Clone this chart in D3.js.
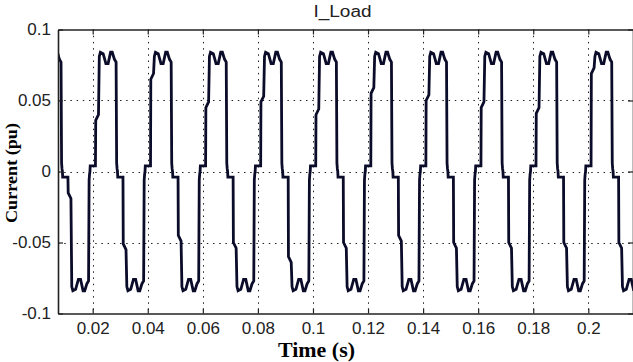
<!DOCTYPE html>
<html><head><meta charset="utf-8">
<script src="https://cdn.jsdelivr.net/npm/d3@7"></script>
<style>html,body{margin:0;padding:0;background:#fff;overflow:hidden}</style>
</head><body>
<svg id="chart" width="633" height="362"></svg>
<script>
const title = "I_Load";
const xLabel = "Time (s)";
const yLabel = "Current (pu)";
const xDomain = [0.0074, 0.21623];
const yDomain = [-0.1, 0.1];
const xTicks = [0.02, 0.04, 0.06, 0.08, 0.1, 0.12, 0.14, 0.16, 0.18, 0.2];
const xTickLabels = ["0.02", "0.04", "0.06", "0.08", "0.1", "0.12", "0.14", "0.16", "0.18", "0.2"];
const yTicks = [-0.1, -0.05, 0, 0.05, 0.1];
const yTickLabels = ["-0.1", "-0.05", "0", "0.05", "0.1"];

const time = [
 0.0072, 0.0079, 0.0085, 0.0087, 0.00885,
 0.0090, 0.0091, 0.0110, 0.0111, 0.0121, 0.0124, 0.0128, 0.0138, 0.0148, 0.0156, 0.0165, 0.0171, 0.0179, 0.0185, 0.0187, 0.01885,
 0.0190, 0.0191, 0.0210, 0.0211, 0.0221, 0.0224, 0.0228, 0.0238, 0.0248, 0.0256, 0.0265, 0.0271, 0.0279, 0.0285, 0.0287, 0.02885,
 0.0290, 0.0291, 0.0310, 0.0311, 0.0321, 0.0324, 0.0328, 0.0338, 0.0348, 0.0356, 0.0365, 0.0371, 0.0379, 0.0385, 0.0387, 0.03885,
 0.0390, 0.0391, 0.0410, 0.0411, 0.0421, 0.0424, 0.0428, 0.0438, 0.0448, 0.0456, 0.0465, 0.0471, 0.0479, 0.0485, 0.0487, 0.04885,
 0.0490, 0.0491, 0.0510, 0.0511, 0.0521, 0.0524, 0.0528, 0.0538, 0.0548, 0.0556, 0.0565, 0.0571, 0.0579, 0.0585, 0.0587, 0.05885,
 0.0590, 0.0591, 0.0610, 0.0611, 0.0621, 0.0624, 0.0628, 0.0638, 0.0648, 0.0656, 0.0665, 0.0671, 0.0679, 0.0685, 0.0687, 0.06885,
 0.0690, 0.0691, 0.0710, 0.0711, 0.0721, 0.0724, 0.0728, 0.0738, 0.0748, 0.0756, 0.0765, 0.0771, 0.0779, 0.0785, 0.0787, 0.07885,
 0.0790, 0.0791, 0.0810, 0.0811, 0.0821, 0.0824, 0.0828, 0.0838, 0.0848, 0.0856, 0.0865, 0.0871, 0.0879, 0.0885, 0.0887, 0.08885,
 0.0890, 0.0891, 0.0910, 0.0911, 0.0921, 0.0924, 0.0928, 0.0938, 0.0948, 0.0956, 0.0965, 0.0971, 0.0979, 0.0985, 0.0987, 0.09885,
 0.0990, 0.0991, 0.1010, 0.1011, 0.1021, 0.1024, 0.1028, 0.1038, 0.1048, 0.1056, 0.1065, 0.1071, 0.1079, 0.1085, 0.1087, 0.10885,
 0.1090, 0.1091, 0.1110, 0.1111, 0.1121, 0.1124, 0.1128, 0.1138, 0.1148, 0.1156, 0.1165, 0.1171, 0.1179, 0.1185, 0.1187, 0.11885,
 0.1190, 0.1191, 0.1210, 0.1211, 0.1221, 0.1224, 0.1228, 0.1238, 0.1248, 0.1256, 0.1265, 0.1271, 0.1279, 0.1285, 0.1287, 0.12885,
 0.1290, 0.1291, 0.1310, 0.1311, 0.1321, 0.1324, 0.1328, 0.1338, 0.1348, 0.1356, 0.1365, 0.1371, 0.1379, 0.1385, 0.1387, 0.13885,
 0.1390, 0.1391, 0.1410, 0.1411, 0.1421, 0.1424, 0.1428, 0.1438, 0.1448, 0.1456, 0.1465, 0.1471, 0.1479, 0.1485, 0.1487, 0.14885,
 0.1490, 0.1491, 0.1510, 0.1511, 0.1521, 0.1524, 0.1528, 0.1538, 0.1548, 0.1556, 0.1565, 0.1571, 0.1579, 0.1585, 0.1587, 0.15885,
 0.1590, 0.1591, 0.1610, 0.1611, 0.1621, 0.1624, 0.1628, 0.1638, 0.1648, 0.1656, 0.1665, 0.1671, 0.1679, 0.1685, 0.1687, 0.16885,
 0.1690, 0.1691, 0.1710, 0.1711, 0.1721, 0.1724, 0.1728, 0.1738, 0.1748, 0.1756, 0.1765, 0.1771, 0.1779, 0.1785, 0.1787, 0.17885,
 0.1790, 0.1791, 0.1810, 0.1811, 0.1821, 0.1824, 0.1828, 0.1838, 0.1848, 0.1856, 0.1865, 0.1871, 0.1879, 0.1885, 0.1887, 0.18885,
 0.1890, 0.1891, 0.1910, 0.1911, 0.1921, 0.1924, 0.1928, 0.1938, 0.1948, 0.1956, 0.1965, 0.1971, 0.1979, 0.1985, 0.1987, 0.19885,
 0.1990, 0.1991, 0.2010, 0.2011, 0.2021, 0.2024, 0.2028, 0.2038, 0.2048, 0.2056, 0.2065, 0.2071, 0.2079, 0.2085, 0.2087, 0.20885,
 0.2090, 0.2091, 0.2110, 0.2111, 0.2121, 0.2124, 0.2128, 0.2138, 0.2148, 0.2156, 0.2165
];

const current = [
 0.084, 0.079, 0.077, 0.006, 0.002,
 0, -0.004, -0.004, -0.015, -0.019, -0.081, -0.084, -0.083, -0.076, -0.076, -0.084, -0.084, -0.079, -0.077, -0.006, -0.002,
 0, 0.004, 0.004, 0.036, 0.040, 0.081, 0.084, 0.083, 0.076, 0.076, 0.084, 0.084, 0.079, 0.077, 0.006, 0.002,
 0, -0.004, -0.004, -0.051, -0.055, -0.081, -0.084, -0.083, -0.076, -0.076, -0.084, -0.084, -0.079, -0.077, -0.006, -0.002,
 0, 0.004, 0.004, 0.065, 0.069, 0.081, 0.084, 0.083, 0.076, 0.076, 0.084, 0.084, 0.079, 0.077, 0.006, 0.002,
 0, -0.004, -0.004, -0.045, -0.049, -0.081, -0.084, -0.083, -0.076, -0.076, -0.084, -0.084, -0.079, -0.077, -0.006, -0.002,
 0, 0.004, 0.004, 0.045, 0.049, 0.081, 0.084, 0.083, 0.076, 0.076, 0.084, 0.084, 0.079, 0.077, 0.006, 0.002,
 0, -0.004, -0.004, -0.050, -0.054, -0.081, -0.084, -0.083, -0.076, -0.076, -0.084, -0.084, -0.079, -0.077, -0.006, -0.002,
 0, 0.004, 0.004, 0.049, 0.053, 0.081, 0.084, 0.083, 0.076, 0.076, 0.084, 0.084, 0.079, 0.077, 0.006, 0.002,
 0, -0.004, -0.004, -0.060, -0.064, -0.081, -0.084, -0.083, -0.076, -0.076, -0.084, -0.084, -0.079, -0.077, -0.006, -0.002,
 0, 0.004, 0.004, 0.040, 0.044, 0.081, 0.084, 0.083, 0.076, 0.076, 0.084, 0.084, 0.079, 0.077, 0.006, 0.002,
 0, -0.004, -0.004, -0.050, -0.054, -0.081, -0.084, -0.083, -0.076, -0.076, -0.084, -0.084, -0.079, -0.077, -0.006, -0.002,
 0, 0.004, 0.004, 0.055, 0.059, 0.081, 0.084, 0.083, 0.076, 0.076, 0.084, 0.084, 0.079, 0.077, 0.006, 0.002,
 0, -0.004, -0.004, -0.045, -0.049, -0.081, -0.084, -0.083, -0.076, -0.076, -0.084, -0.084, -0.079, -0.077, -0.006, -0.002,
 0, 0.004, 0.004, 0.050, 0.054, 0.081, 0.084, 0.083, 0.076, 0.076, 0.084, 0.084, 0.079, 0.077, 0.006, 0.002,
 0, -0.004, -0.004, -0.050, -0.054, -0.081, -0.084, -0.083, -0.076, -0.076, -0.084, -0.084, -0.079, -0.077, -0.006, -0.002,
 0, 0.004, 0.004, 0.045, 0.049, 0.081, 0.084, 0.083, 0.076, 0.076, 0.084, 0.084, 0.079, 0.077, 0.006, 0.002,
 0, -0.004, -0.004, -0.050, -0.054, -0.081, -0.084, -0.083, -0.076, -0.076, -0.084, -0.084, -0.079, -0.077, -0.006, -0.002,
 0, 0.004, 0.004, 0.041, 0.045, 0.081, 0.084, 0.083, 0.076, 0.076, 0.084, 0.084, 0.079, 0.077, 0.006, 0.002,
 0, -0.004, -0.004, -0.050, -0.054, -0.081, -0.084, -0.083, -0.076, -0.076, -0.084, -0.084, -0.079, -0.077, -0.006, -0.002,
 0, 0.004, 0.004, 0.069, 0.073, 0.081, 0.084, 0.083, 0.076, 0.076, 0.084, 0.084, 0.079, 0.077, 0.006, 0.002,
 0, -0.004, -0.004, -0.050, -0.054, -0.081, -0.084, -0.083, -0.076, -0.076, -0.084
];

const W = 633, H = 362;
const m = {left: 58, right: 633, top: 29.5, bottom: 313.5};
const svg = d3.select("#chart");
svg.append("rect").attr("width", W).attr("height", H).attr("fill", "#fff");

const x = d3.scaleLinear().domain(xDomain).range([m.left, m.right]);
const y = d3.scaleLinear().domain(yDomain).range([m.bottom, m.top]);

svg.append("defs").append("clipPath").attr("id", "clip")
  .append("rect").attr("x", m.left).attr("y", m.top)
  .attr("width", m.right - m.left).attr("height", m.bottom - m.top);

// grid
const grid = svg.append("g").attr("stroke", "#222").attr("stroke-width", 1)
  .attr("stroke-dasharray", "1.5,4.7").attr("fill", "none");
grid.selectAll("line.vx").data(xTicks).join("line")
  .attr("x1", d => Math.round(x(d)) + 0.5).attr("x2", d => Math.round(x(d)) + 0.5)
  .attr("y1", m.top).attr("y2", m.bottom);
grid.selectAll("line.hy").data(yTicks.filter(d => d > -0.1 && d < 0.1)).join("line")
  .attr("class", "hy")
  .attr("y1", d => Math.round(y(d)) + 0.5).attr("y2", d => Math.round(y(d)) + 0.5)
  .attr("x1", m.left).attr("x2", m.right);

// data line
const pts = time.map((t, i) => [t, current[i]]);
svg.append("path").datum(pts)
  .attr("clip-path", "url(#clip)")
  .attr("fill", "none").attr("stroke", "#0b0b2a").attr("stroke-width", 2.8)
  .attr("stroke-linejoin", "miter")
  .attr("d", d3.line().x(d => x(d[0])).y(d => y(d[1])));

// axes
const tickFont = "'Liberation Sans', Arial, sans-serif";
const fmtX = (d, i) => xTickLabels[i];
const fmtY = (d, i) => yTickLabels[i];

const gb = svg.append("g").attr("transform", `translate(0,${m.bottom})`)
  .call(d3.axisBottom(x).tickValues(xTicks).tickFormat(fmtX).tickSizeInner(-5).tickSizeOuter(0).tickPadding(8));
const gl = svg.append("g").attr("transform", `translate(${m.left},0)`)
  .call(d3.axisLeft(y).tickValues(yTicks).tickFormat(fmtY).tickSizeInner(-5).tickSizeOuter(0).tickPadding(7));
const gt = svg.append("g").attr("transform", `translate(0,${m.top})`)
  .call(d3.axisTop(x).tickValues(xTicks).tickFormat("").tickSizeInner(-5).tickSizeOuter(0));
const gr = svg.append("g").attr("transform", `translate(${m.right},0)`)
  .call(d3.axisRight(y).tickValues(yTicks).tickFormat("").tickSizeInner(-5).tickSizeOuter(0));

[gb, gl, gt, gr].forEach(g => {
  g.select(".domain").attr("stroke", "#222").attr("stroke-width", 1.6);
  g.selectAll(".tick line").attr("stroke", "#222").attr("stroke-width", 1.2);
  g.selectAll(".tick text").attr("fill", "#222")
    .style("font-family", tickFont).style("font-size", "17px");
});

// titles
svg.append("text").attr("x", 342.5).attr("y", 16.7)
  .attr("text-anchor", "middle").attr("fill", "#222")
  .attr("textLength", 58).attr("lengthAdjust", "spacingAndGlyphs")
  .style("font-family", tickFont).style("font-size", "16px").text(title);

svg.append("text").attr("x", 316.5).attr("y", 356.5)
  .attr("text-anchor", "middle").attr("fill", "#000")
  .attr("textLength", 77).attr("lengthAdjust", "spacingAndGlyphs")
  .style("font-family", "'Liberation Serif', 'Times New Roman', serif")
  .style("font-weight", "bold").style("font-size", "20px").text(xLabel);

svg.append("text").attr("transform", "translate(17,173) rotate(-90)")
  .attr("text-anchor", "middle").attr("fill", "#000")
  .attr("textLength", 100).attr("lengthAdjust", "spacingAndGlyphs")
  .style("font-family", "'Liberation Serif', 'Times New Roman', serif")
  .style("font-weight", "bold").style("font-size", "16.5px").text(yLabel);
</script>
</body></html>
